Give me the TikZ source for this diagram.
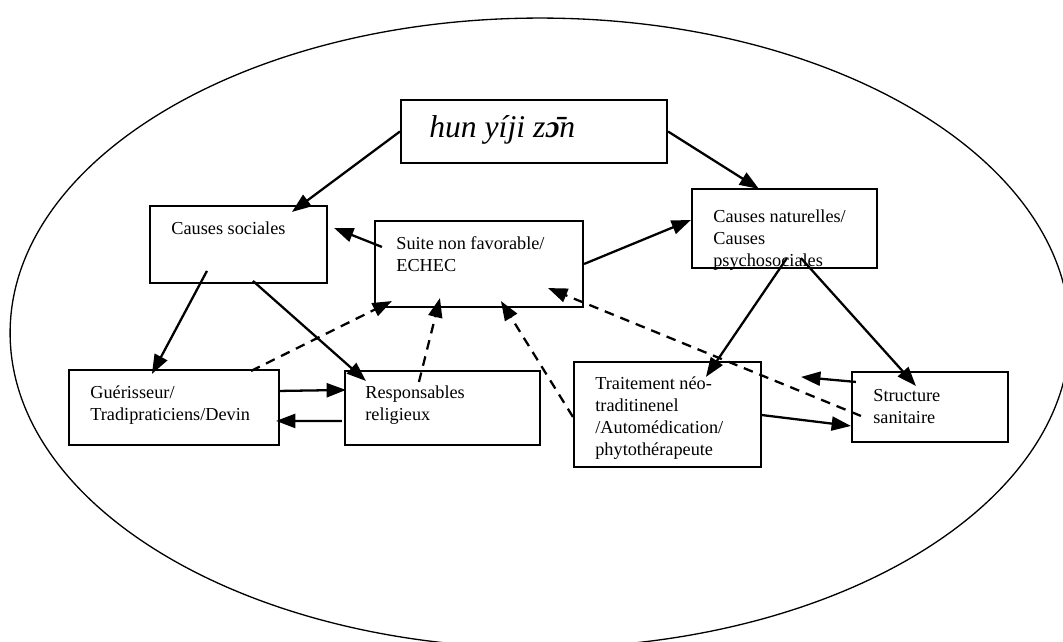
\documentclass[tikz,border=0pt]{standalone}
\usepackage{fontspec}
\setmainfont{Liberation Serif}
\usetikzlibrary{arrows.meta,fit,shapes.geometric}
\begin{document}
\begin{tikzpicture}[x=0.02cm,y=-0.02cm,
  box/.style={draw, line width=1.2pt, inner sep=0pt},
  txt/.style={inner sep=0pt, align=left, anchor=north west, font=\fontsize{10.4}{12.5}\selectfont},
  arr/.style={line width=1.3pt, -{Triangle[length=11pt,width=8pt]}},
  darr/.style={arr, dash pattern=on 5.5pt off 4pt},
  oval/.style={draw, line width=0.75pt}]
\useasboundingbox (0,0) rectangle (1063,642);
\clip (0,0) rectangle (1063,642);
% outer ellipse
\node[oval, ellipse, minimum width=21.2cm, minimum height=12.6cm, inner sep=0pt] (env) at (540,333) {};
% boxes
\node[box, fit={(401,100) (667,163)}] (hun) {};
\node[box, fit={(150,206) (327,283)}] (cs) {};
\node[box, fit={(375,221) (583,307)}] (suite) {};
\node[box, fit={(692,189) (877,268)}] (cn) {};
\node[box, fit={(69,370) (279,445)}] (guer) {};
\node[box, fit={(345,371) (540,445)}] (resp) {};
\node[box, fit={(574,362) (761,467)}] (trait) {};
\node[box, fit={(852,372) (1008,442)}] (struct) {};
% texts
\node[inner sep=0pt, anchor=base west, font=\fontsize{18}{21}\selectfont\itshape] (hunt) at (429,138) {hun yíji z{\bfseries ɔ̄}n};
\node[txt] (cst) at (171,218.6) {\strut Causes sociales};
\node[txt] (suitet) at (396,233.6) {\strut Suite non favorable/\\ECHEC};
\begin{scope}
\clip (cn.north west) rectangle (cn.south east);
\node[txt] (cnt) at (713,206.6) {\strut Causes naturelles/\\Causes\\psychosociales};
\end{scope}
\node[txt] (guert) at (90,382.6) {\strut Guérisseur/\\Tradipraticiens/Devin};
\node[txt] (respt) at (365,382.6) {\strut Responsables\\religieux};
\node[txt] (traitt) at (595,373.6) {\strut Traitement néo-\\traditinenel\\/Automédication/\\phytothérapeute};
\node[txt] (structt) at (873,385.6) {\strut Structure\\sanitaire};
% solid arrows
\draw[arr] (hun.west) -- ([shift={(143,7)}]cs.north west);
\draw[arr] (hun.east) -- ([shift={(68,1)}]cn.north west);
\draw[arr] ([shift={(8,27)}]suite.north west) -- ([shift={(6,23)}]cs.north east);
\draw[arr] (suite.east) -- ([shift={(0,32)}]cn.north west);
\draw[arr] ([shift={(58,66)}]cs.north west) -- ([shift={(84,5)}]guer.north west);
\draw[arr] ([shift={(104,76)}]cs.north west) -- ([shift={(22,11)}]resp.north west);
\draw[arr] ([shift={(0,22)}]guer.north east) -- ([shift={(2,20)}]resp.north west);
\draw[arr] ([shift={(-2,51)}]resp.north west) -- ([shift={(-4,52)}]guer.north east);
\draw[arr] ([shift={(96,-11)}]cn.south west) -- ([shift={(133,16)}]trait.north west);
\draw[arr] ([shift={(110,-11)}]cn.south west) -- ([shift={(65,15)}]struct.north west);
\draw[arr] ([shift={(5,11)}]struct.north west) -- ([shift={(39,16)}]trait.north east);
\draw[arr] ([shift={(-1,54)}]trait.north east) -- ([shift={(0,55)}]struct.north west);
% dashed arrows
\draw[darr] ([shift={(-29,2)}]guer.north east) -- ([shift={(18,-7)}]suite.south west);
\draw[darr] ([shift={(75,12)}]resp.north west) -- ([shift={(66,-10)}]suite.south west);
\draw[darr] ([shift={(0,56)}]trait.north west) -- ([shift={(127,-7)}]suite.south west);
\draw[darr] ([shift={(10,45)}]struct.north west) -- ([shift={(-36,-20)}]suite.south east);
\end{tikzpicture}
\end{document}
